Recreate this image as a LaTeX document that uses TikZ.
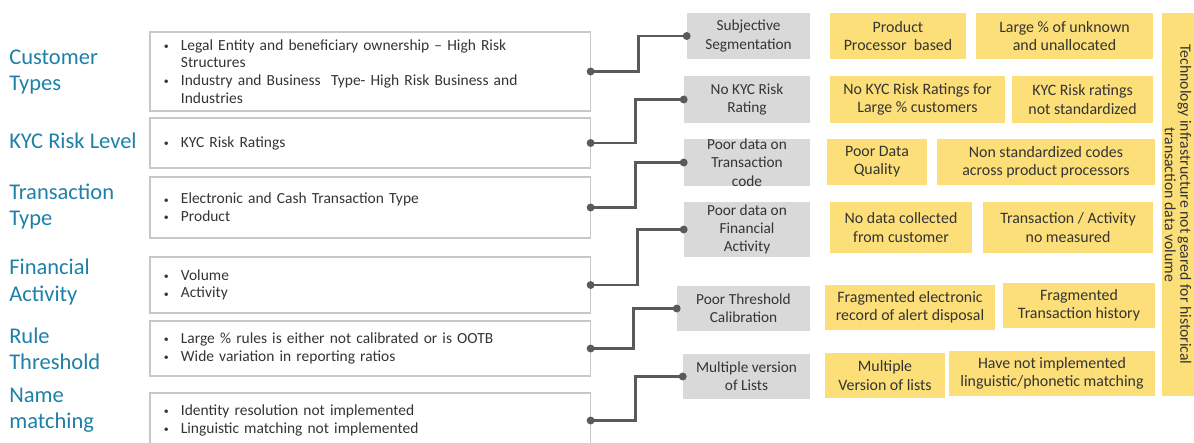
\documentclass[tikz,border=0pt]{standalone}
\usepackage{fontspec}
\setmainfont{Carlito}
\usepackage{tikz}
\usetikzlibrary{arrows.meta}
\definecolor{catblue}{RGB}{30,128,168}
\definecolor{boxline}{RGB}{200,200,200}
\definecolor{bodytext}{RGB}{52,52,52}
\definecolor{gapfill}{RGB}{217,217,217}
\definecolor{issuefill}{RGB}{252,223,120}
\definecolor{linkgray}{RGB}{90,90,90}
\newcommand{\itm}{\makebox[0.425cm][l]{\raisebox{0.1ex}{\scriptsize\textbullet}}}
\newcommand{\cnt}{\hspace*{0.425cm}}
\tikzstyle{category} = [anchor=west, align=left, inner sep=0, text=catblue, font=\fontsize{16}{18.5}\selectfont]
\tikzstyle{detail} = [rectangle, draw=boxline, line width=0.8pt, text width=10.3cm, inner xsep=0.35cm, inner ysep=0, align=left, text=bodytext, font=\fontsize{11}{12.6}\selectfont]
\tikzstyle{gap} = [rectangle, fill=gapfill, inner sep=0, align=center, text=bodytext, font=\fontsize{10.9}{13}\selectfont]
\tikzstyle{issue} = [rectangle, fill=issuefill, inner sep=0, align=center, text=bodytext, font=\fontsize{11.3}{13}\selectfont]
\tikzstyle{link} = [line width=1.8pt, draw=linkgray, {Circle[length=5.5pt]}-{Circle[length=5.5pt]}, shorten <=-2.75pt, shorten >=-2.75pt]
\tikzset{boxsize/.style 2 args={minimum width=#1*0.025cm, minimum height=#2*0.025cm}}

\begin{document}
\begin{tikzpicture}[x=0.025cm, y=-0.025cm]
		\useasboundingbox (0,0) rectangle (1194,442);
		\node (custtype) [category] at (9,72) {Customer\\Types};
		\node (kyclevel) [category] at (9,141) {KYC Risk Level};
		\node (txntype) [category] at (9,207) {Transaction\\Type};
		\node (finact) [category] at (9,282) {Financial\\Activity};
		\node (rulethr) [category] at (9,349) {Rule\\Threshold};
		\node (namematch) [category] at (9,410) {Name\\matching};

		\node (custdet) [detail, boxsize={440}{79}] at (370,71.5) {\itm Legal Entity and beneficiary ownership -- High Risk\\\cnt Structures\\\itm Industry and Business~ Type- High Risk Business and\\\cnt Industries};
		\node (kycdet) [detail, boxsize={440}{50}] at (370,143) {\itm KYC Risk Ratings};
		\node (txndet) [detail, boxsize={440}{61}] at (370,207.5) {\itm Electronic and Cash Transaction Type\\\itm Product};
		\node (findet) [detail, boxsize={440}{56}] at (370,285) {\itm Volume\\\itm Activity};
		\node (ruledet) [detail, boxsize={440}{55}] at (370,348.5) {\itm Large \% rules is either not calibrated or is OOTB\\\itm Wide variation in reporting ratios};
		\node (namedet) [detail, boxsize={440}{55}] at (370,420.5) {\itm Identity resolution not implemented\\\itm Linguistic matching not implemented};

		\node (subjseg) [gap, boxsize={123}{46}] at (748.5,36) {Subjective\\Segmentation};
		\node (nokyc) [gap, boxsize={126}{47}] at (747,99.5) {No KYC Risk\\Rating};
		\node (poortxn) [gap, boxsize={126}{47}] at (747,162.5) {Poor data on\\Transaction\\code};
		\node (poorfin) [gap, boxsize={126}{55}] at (747,229.5) {Poor data on\\Financial\\Activity};
		\node (poorthr) [gap, boxsize={133}{45}] at (743.5,308.5) {Poor Threshold\\Calibration};
		\node (multlist) [gap, boxsize={127}{45}] at (746.5,376.5) {Multiple version\\of Lists};

		\draw [link] (custdet.east) -- ++(48,0) |- (subjseg.west);
		\draw [link] (kycdet.east) -- ++(45,0) |- (nokyc.west);
		\draw [link] (txndet.east) -- ++(45,0) |- (poortxn.west);
		\draw [link] (findet.east) -- ++(47,0) |- (poorfin.west);
		\draw [link] (ruledet.east) -- ++(43,0) |- (poorthr.west);
		\draw [link] (namedet.east) -- ++(45,0) |- (multlist.west);

		\node (procbased) [issue, boxsize={136}{46}] at (898,36) {Product\\Processor~ based};
		\node (unalloc) [issue, boxsize={177}{46}] at (1064.5,36) {Large \% of unknown\\and unallocated};
		\node (noratings) [issue, boxsize={175}{47}] at (917.5,99.5) {No KYC Risk Ratings for\\Large \% customers};
		\node (nonstdrate) [issue, boxsize={141}{47}] at (1082.5,99.5) {KYC Risk ratings\\not standardized};
		\node (dataqual) [issue, boxsize={100}{46}] at (877,162) {Poor Data\\Quality};
		\node (nonstdcode) [issue, boxsize={218}{46}] at (1046,162) {Non standardized codes\\across product processors};
		\node (nodata) [issue, boxsize={142}{51}] at (901,227.5) {No data collected\\from customer};
		\node (notmeas) [issue, boxsize={170}{51}] at (1068,227.5) {Transaction / Activity\\no measured};
		\node (fragalert) [issue, boxsize={170}{45}] at (910,307.5) {Fragmented electronic\\record of alert disposal};
		\node (fraghist) [issue, boxsize={152}{45}] at (1079,305.5) {Fragmented\\Transaction history};
		\node (multver) [issue, boxsize={120}{45}] at (885,375.5) {Multiple\\Version of lists};
		\node (nophon) [issue, boxsize={206}{45}] at (1052,373.5) {Have not implemented\\linguistic/phonetic matching};

		\node (techinfra) [issue, rotate=-90, boxsize={383}{32}, font=\fontsize{11.2}{11}\selectfont] at (1178,204.5) {Technology infrastructure not geared for historical\\transaction data volume};
	\end{tikzpicture}
\end{document}
